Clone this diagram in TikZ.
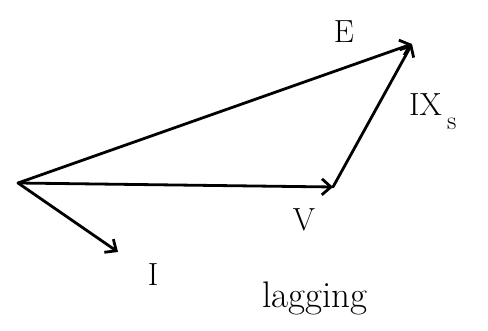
\documentclass[tikz,border=0pt]{standalone}
\usepackage{tikz}
\usetikzlibrary{arrows.meta}

\begin{document}
\begin{tikzpicture}[x=1pt,y=-1pt,>={Straight Barb[length=9pt,width=16pt]},
  phasor/.style={line width=2.8pt,line cap=round,->},
  lbl/.style={font=\fontsize{32}{36}\selectfont,inner sep=0pt}]
 \useasboundingbox (0,0) rectangle (488,331);
 \coordinate (O) at (18,183);
 \coordinate (V) at (333,187);
 \coordinate (E) at (412,44);
 \coordinate (I) at (118,252);
 \draw[phasor] (O)--(E);
 \draw[phasor] (O)--(V);
 \draw[phasor] (V)--(E);
 \draw[phasor] (O)--(I);
 \node[lbl] (Elbl) at (344,32) {E};
 \node[lbl] (Vlbl) at (304,220) {V};
 \node[lbl] (Ilbl) at (153,275) {I};
 \node[lbl,anchor=west] (Xlbl) at (409,112) {IX\,\raisebox{-14pt}{\fontsize{26}{30}\selectfont s}};
 \node[lbl,font=\fontsize{37}{42}\selectfont] (lag) at (315,298) {lagging};
\end{tikzpicture}
\end{document}
